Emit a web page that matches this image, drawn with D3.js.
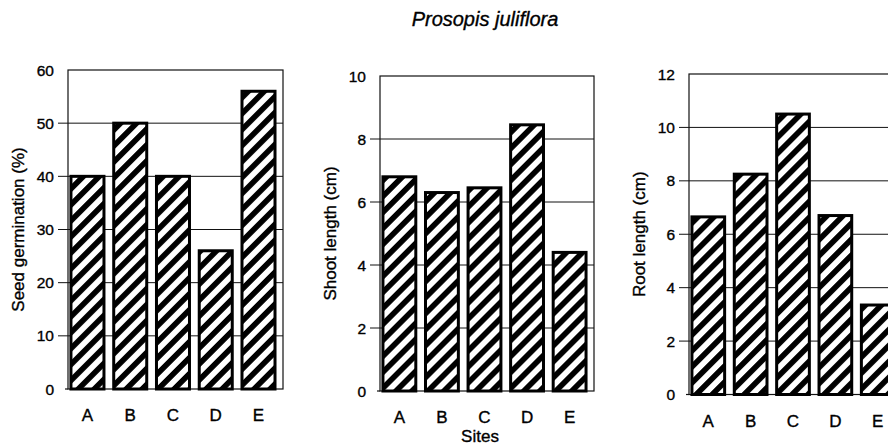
<!DOCTYPE html>
<html>
<head>
<meta charset="utf-8">
<script src="https://cdn.jsdelivr.net/npm/d3@7"></script>
<style>
  html, body { margin: 0; padding: 0; background: #fff; }
  svg { display: block; }
  text { font-family: "Liberation Sans", Arial, sans-serif; fill: #000; stroke: #000; stroke-width: 0.35px; }
</style>
</head>
<body>
<svg id="chart" width="888" height="446"></svg>
<script>
// ---- data ----
const title = "Prosopis juliflora";
const sites = ["A", "B", "C", "D", "E"];
const germination = [40, 50, 40, 26, 56];
const shootLength = [6.8, 6.3, 6.45, 8.45, 4.4];
const rootLength = [6.65, 8.25, 10.5, 6.7, 3.35];
const germTicks = [0, 10, 20, 30, 40, 50, 60];
const shootTicks = [0, 2, 4, 6, 8, 10];
const rootTicks = [0, 2, 4, 6, 8, 10, 12];
const yTitles = ["Seed germination (%)", "Shoot length (cm)", "Root length (cm)"];
const xTitle = "Sites";

// ---- layout ----
const panels = [
  { values: germination, ticks: germTicks, yTitle: yTitles[0], left: 68, right: 283, top: 70, bottom: 389, xTitle: false },
  { values: shootLength, ticks: shootTicks, yTitle: yTitles[1], left: 380, right: 594, top: 76, bottom: 391, xTitle: true },
  { values: rootLength, ticks: rootTicks, yTitle: yTitles[2], left: 689, right: 902, top: 74, bottom: 394.5, xTitle: false }
];

const svg = d3.select("#chart");

const defs = svg.append("defs");
const pat = defs.append("pattern")
  .attr("id", "hatch")
  .attr("patternUnits", "userSpaceOnUse")
  .attr("width", 11.3)
  .attr("height", 11.3)
  .attr("patternTransform", "rotate(45)");
pat.append("rect").attr("width", 11.3).attr("height", 11.3).attr("fill", "#fff");
pat.append("rect").attr("width", 5.6).attr("height", 11.3).attr("fill", "#000");

svg.append("text")
  .attr("x", 485).attr("y", 26)
  .attr("text-anchor", "middle")
  .style("font-size", "20px")
  .style("font-style", "italic")
  .text(title);

panels.forEach(p => {
  const g = svg.append("g");
  const x = d3.scaleBand().domain(sites).range([p.left, p.right])
    .paddingInner(0.228).paddingOuter(0.128).align(0.27);
  const y = d3.scaleLinear().domain([0, d3.max(p.ticks)]).range([p.bottom, p.top]);

  // gridlines (intermediate) with outward ticks
  g.selectAll("line.grid").data(p.ticks.filter(t => t > 0 && t < d3.max(p.ticks)))
    .join("line")
    .attr("x1", p.left - 10).attr("x2", p.right)
    .attr("y1", d => y(d)).attr("y2", d => y(d))
    .attr("stroke", "#111").attr("stroke-width", 1);

  // frame
  g.append("rect")
    .attr("x", p.left).attr("y", p.top)
    .attr("width", p.right - p.left).attr("height", p.bottom - p.top)
    .attr("fill", "none").attr("stroke", "#111").attr("stroke-width", 1.2);
  g.append("line")
    .attr("x1", p.left - 3).attr("x2", p.left)
    .attr("y1", p.bottom).attr("y2", p.bottom)
    .attr("stroke", "#111").attr("stroke-width", 1.2);

  // tick labels
  g.selectAll("text.ytick").data(p.ticks).join("text")
    .attr("x", p.left - 14)
    .attr("y", d => y(d))
    .attr("dy", "0.36em")
    .attr("text-anchor", "end")
    .style("font-size", "15.5px")
    .text(d => d);

  // bars
  g.selectAll("rect.bar").data(p.values).join("rect")
    .attr("x", (d, i) => x(sites[i]))
    .attr("width", x.bandwidth())
    .attr("y", d => y(d))
    .attr("height", d => y(0) - y(d))
    .attr("fill", "url(#hatch)")
    .attr("stroke", "#000")
    .attr("stroke-width", 3);

  // x labels
  g.selectAll("text.xlab").data(sites).join("text")
    .attr("x", d => x(d) + x.bandwidth() / 2)
    .attr("y", p.bottom + 32)
    .attr("text-anchor", "middle")
    .style("font-size", "17px")
    .text(d => d);

  // y title
  g.append("text")
    .attr("transform", `translate(${p.left - 44},${(p.top + p.bottom) / 2}) rotate(-90)`)
    .attr("text-anchor", "middle")
    .style("font-size", "17px")
    .text(p.yTitle);

  if (p.xTitle) {
    g.append("text")
      .attr("x", (p.left + p.right) / 2 - 7)
      .attr("y", 442)
      .attr("text-anchor", "middle")
      .style("font-size", "17px")
      .text(xTitle);
  }
});
</script>
</body>
</html>
